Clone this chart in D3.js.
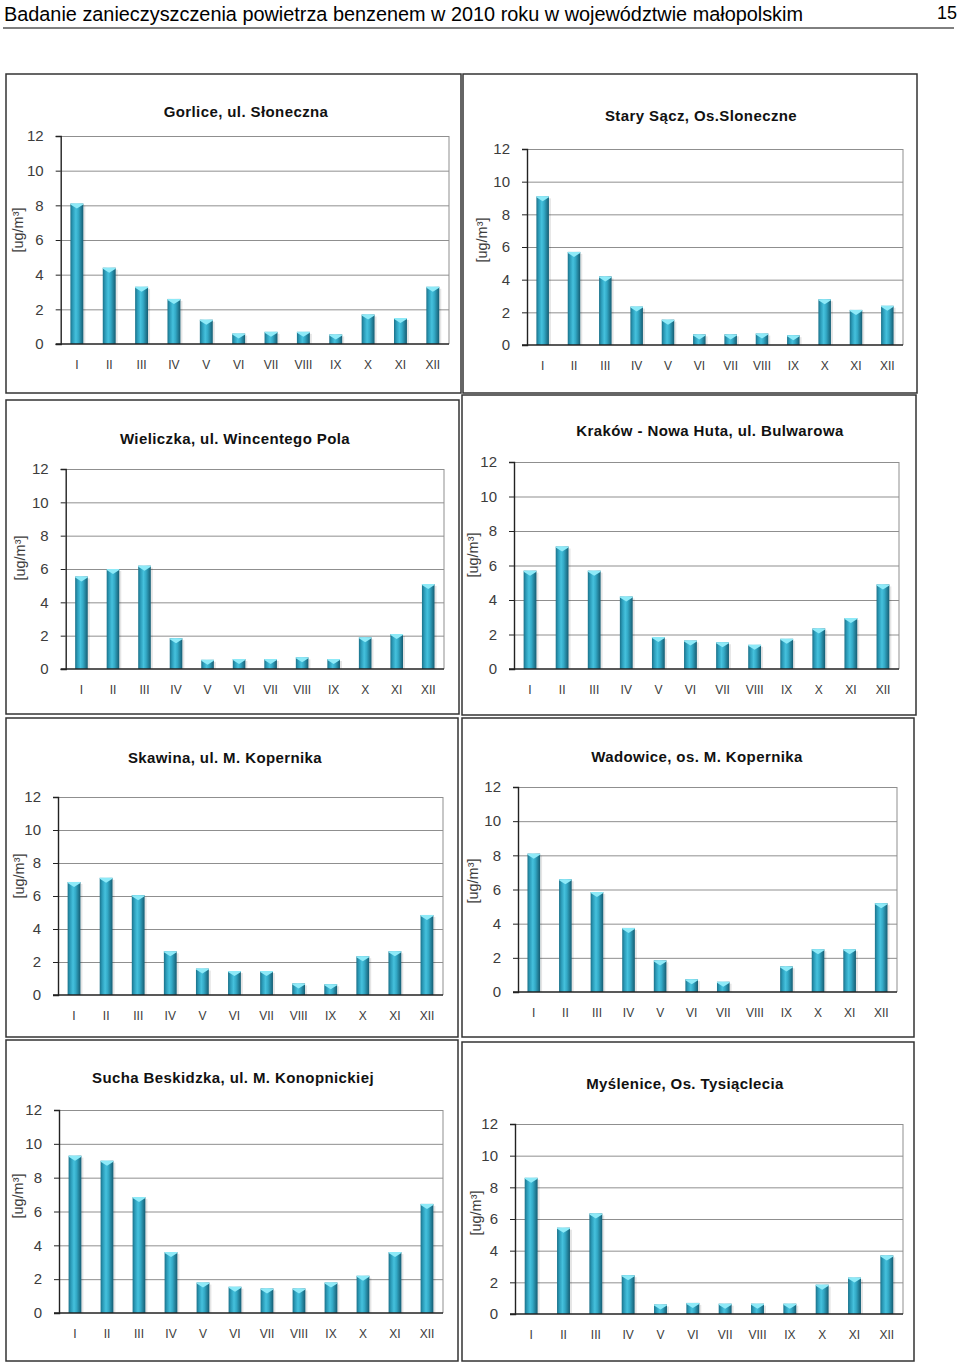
<!DOCTYPE html>
<html>
<head>
<meta charset="utf-8">
<script src="https://cdn.jsdelivr.net/npm/d3@7"></script>
<style>
  html, body { margin: 0; padding: 0; background: #fff; }
  svg { display: block; }
</style>
</head>
<body>
<svg id="chart" width="960" height="1364"></svg>
<script>
// ---------- DATA ----------
const pageTitle = "Badanie zanieczyszczenia powietrza benzenem w 2010 roku w województwie małopolskim";
const pageNumber = "15";
const months = ["I","II","III","IV","V","VI","VII","VIII","IX","X","XI","XII"];
const yTicks = [0, 2, 4, 6, 8, 10, 12];
const unitLabel = "[ug/m³]";

const stationNames = [
  "Gorlice, ul. Słoneczna",
  "Stary Sącz, Os.Sloneczne",
  "Wieliczka, ul. Wincentego Pola",
  "Kraków - Nowa Huta, ul. Bulwarowa",
  "Skawina, ul. M. Kopernika",
  "Wadowice, os. M. Kopernika",
  "Sucha Beskidzka, ul. M. Konopnickiej",
  "Myślenice, Os. Tysiąclecia"
];

const gorlice     = [8.1, 4.4, 3.3, 2.6, 1.4, 0.6, 0.7, 0.7, 0.55, 1.7, 1.5, 3.3];
const staryScz    = [9.1, 5.7, 4.2, 2.35, 1.55, 0.65, 0.65, 0.7, 0.6, 2.8, 2.15, 2.4];
const wieliczka   = [5.55, 6.0, 6.2, 1.85, 0.55, 0.6, 0.6, 0.7, 0.6, 1.9, 2.1, 5.1];
const krakow      = [5.7, 7.1, 5.7, 4.2, 1.85, 1.65, 1.55, 1.4, 1.75, 2.35, 2.95, 4.9];
const skawina     = [6.85, 7.1, 6.05, 2.65, 1.6, 1.45, 1.45, 0.7, 0.65, 2.35, 2.65, 4.85];
const wadowice    = [8.1, 6.6, 5.85, 3.75, 1.85, 0.75, 0.6, null, 1.5, 2.5, 2.5, 5.2];
const sucha       = [9.3, 9.0, 6.85, 3.6, 1.8, 1.55, 1.45, 1.45, 1.8, 2.2, 3.6, 6.45];
const myslenice   = [8.6, 5.45, 6.35, 2.45, 0.6, 0.7, 0.65, 0.65, 0.65, 1.85, 2.3, 3.7];

const seriesList = [gorlice, staryScz, wieliczka, krakow, skawina, wadowice, sucha, myslenice];

// ---------- LAYOUT (positions only) ----------
const layout = [
  { frame:[6,74,461,393],    plot:[60.7,136,449,344], title:[246,112], ylab:[18,230] },
  { frame:[463,74,917,393],  plot:[527,149,903,345],  title:[701,116], ylab:[482,240] },
  { frame:[6,400,459,714],   plot:[65.7,469,444,669], title:[235,439], ylab:[20,558] },
  { frame:[462,395,916,715], plot:[514,462,899,669],  title:[710,431], ylab:[473,555] },
  { frame:[6,718,458,1037],  plot:[58,797,443,995],   title:[225,758], ylab:[19,876] },
  { frame:[462,718,914,1037],plot:[518,787,897,992],  title:[697,757], ylab:[473,881] },
  { frame:[6,1040,458,1361], plot:[59,1110,443,1313], title:[233,1078], ylab:[18,1196] },
  { frame:[462,1042,914,1361],plot:[515,1124,903,1314],title:[685,1084], ylab:[476,1213] }
];

const svg = d3.select("#chart");
const FONT = "'Liberation Sans', Arial, sans-serif";

// gradient
const defs = svg.append("defs");
const grad = defs.append("linearGradient").attr("id","barGrad")
  .attr("x1","0%").attr("x2","100%").attr("y1","0%").attr("y2","0%");
[[0,"#1b7189"],[0.18,"#2b9bb8"],[0.42,"#45c1dd"],[0.62,"#33a9c6"],[1,"#155c72"]]
  .forEach(([o,c]) => grad.append("stop").attr("offset", o).attr("stop-color", c));

// ---------- PAGE HEADER ----------
svg.append("text")
  .attr("x", 4).attr("y", 20.5)
  .attr("font-family", FONT).attr("font-size", 20.5)
  .attr("textLength", 799).attr("lengthAdjust", "spacingAndGlyphs")
  .attr("fill", "#000")
  .text(pageTitle);
svg.append("text")
  .attr("x", 957).attr("y", 18.5).attr("text-anchor","end")
  .attr("font-family", FONT).attr("font-size", 19)
  .attr("textLength", 20).attr("lengthAdjust", "spacingAndGlyphs")
  .attr("fill", "#000")
  .text(pageNumber);
svg.append("line")
  .attr("x1", 3).attr("x2", 954).attr("y1", 28).attr("y2", 28)
  .attr("stroke", "#000").attr("stroke-width", 1);

// ---------- PANELS ----------
seriesList.forEach((values, i) => {
  const L = layout[i];
  const [fx0, fy0, fx1, fy1] = L.frame;
  const [px0, py0, px1, py1] = L.plot;
  const g = svg.append("g");

  // frame
  g.append("rect")
    .attr("x", fx0).attr("y", fy0)
    .attr("width", fx1 - fx0).attr("height", fy1 - fy0)
    .attr("fill", "#fff").attr("stroke", "#333").attr("stroke-width", 1.5);

  const x = d3.scaleBand().domain(months).range([px0, px1])
    .paddingInner(0.6).paddingOuter(0.3);
  const y = d3.scaleLinear().domain([0, 12]).range([py1, py0]);

  // gridlines
  const grid = g.append("g").attr("transform", `translate(${px0},0)`)
    .call(d3.axisLeft(y).tickValues(yTicks.filter(t => t > 0)).tickSize(-(px1 - px0)).tickFormat(""));
  grid.select(".domain").remove();
  grid.selectAll(".tick line").attr("stroke", "#8f8f8f").attr("stroke-width", 1);

  // right border of plot area
  g.append("line").attr("x1", px1).attr("x2", px1).attr("y1", py0).attr("y2", py1)
    .attr("stroke", "#8f8f8f").attr("stroke-width", 1);

  // bars
  const bars = g.append("g");
  const data = months.map((m, k) => ({ m, v: values[k] })).filter(d => d.v != null);
  bars.selectAll("rect.sh").data(data).join("rect").attr("class","sh")
    .attr("x", d => x(d.m) + x.bandwidth()).attr("y", d => y(d.v) + 2)
    .attr("width", 2).attr("height", d => y(0) - y(d.v) - 2)
    .attr("fill", "#000").attr("opacity", 0.10);
  bars.selectAll("rect.b").data(data).join("rect").attr("class","b")
    .attr("x", d => x(d.m)).attr("y", d => y(d.v))
    .attr("width", x.bandwidth()).attr("height", d => y(0) - y(d.v))
    .attr("fill", "url(#barGrad)");
  bars.selectAll("path.cap").data(data).join("path").attr("class","cap")
    .attr("d", d => {
      const x0 = x(d.m), w = x.bandwidth(), yt = y(d.v);
      const h = Math.min(5, y(0) - yt);
      return `M${x0},${yt} L${x0 + w},${yt} L${x0 + w},${yt + 1} L${x0 + w / 2},${yt + h} L${x0},${yt + 1} Z`;
    })
    .attr("fill", "#8eeaf8");

  // y axis
  const ya = g.append("g").attr("transform", `translate(${px0},0)`)
    .call(d3.axisLeft(y).tickValues(yTicks).tickSize(5).tickPadding(12).tickFormat(d3.format("d")));
  ya.select(".domain").attr("stroke", "#222").attr("stroke-width", 1.4);
  ya.selectAll(".tick line").attr("stroke", "#222");
  ya.selectAll(".tick text")
    .attr("font-family", FONT).attr("font-size", 15).attr("fill", "#3c3c3c");

  // x axis
  const xa = g.append("g").attr("transform", `translate(0,${py1})`)
    .call(d3.axisBottom(x).tickSize(0).tickPadding(16));
  xa.select(".domain").attr("stroke", "#222").attr("stroke-width", 1.6)
    .attr("d", `M${px0 - 5},0H${px1}`);
  xa.selectAll(".tick text")
    .attr("font-family", FONT).attr("font-size", 12).attr("fill", "#3c3c3c");

  // title
  g.append("text")
    .attr("x", L.title[0]).attr("y", L.title[1] + 5.4)
    .attr("text-anchor", "middle")
    .attr("font-family", FONT).attr("font-weight", "bold").attr("font-size", 15)
    .attr("letter-spacing", 0.4)
    .attr("fill", "#111")
    .text(stationNames[i]);

  // y label
  g.append("text")
    .attr("transform", `translate(${L.ylab[0] + 5},${L.ylab[1]}) rotate(-90)`)
    .attr("text-anchor", "middle")
    .attr("font-family", FONT).attr("font-size", 14.5).attr("fill", "#3c3c3c")
    .text(unitLabel);
});
</script>
</body>
</html>
